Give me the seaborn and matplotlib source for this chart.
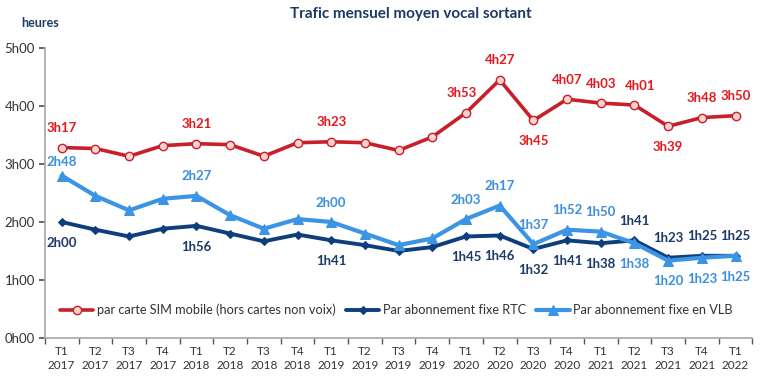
import matplotlib
matplotlib.use("Agg")
import matplotlib.pyplot as plt
import seaborn as sns
import numpy as np

quarters = ["T1\n2017", "T2\n2017", "T3\n2017", "T4\n2017",
            "T1\n2018", "T2\n2018", "T3\n2018", "T4\n2018",
            "T1\n2019", "T2\n2019", "T3\n2019", "T4\n2019",
            "T1\n2020", "T2\n2020", "T3\n2020", "T4\n2020",
            "T1\n2021", "T2\n2021", "T3\n2021", "T4\n2021",
            "T1\n2022"]

# minutes per month
sim_mobile = [197, 196, 188, 199, 201, 200, 188, 202, 203, 202, 194, 208,
              233, 267, 225, 247, 243, 241, 219, 228, 230]
fixe_rtc = [120, 112, 105, 113, 116, 108, 100, 107, 101, 96, 90, 94,
            105, 106, 92, 101, 98, 101, 83, 85, 85]
fixe_vlb = [168, 147, 132, 144, 147, 127, 113, 123, 120, 108, 96, 103,
            123, 137, 97, 112, 110, 98, 80, 83, 85]

labelled = [0, 4, 8, 12, 13, 14, 15, 16, 17, 18, 19, 20]
sim_below = [14, 18]
rtc_above = [17, 18, 19, 20]
vlb_below = [17, 18, 19, 20]

sns.set_theme(style="white")
plt.rcParams['font.family'] = ['Lato', 'DejaVu Sans']


def fmt(m):
    return f"{m // 60}h{m % 60:02d}"


fig = plt.figure(figsize=(7.6, 3.81), dpi=100)
ax = fig.add_axes([0.059, 0.113, 0.931, 0.761])

x = np.arange(len(quarters))
red, red_txt = "#C8202A", "#E3191F"
dark, dark_txt = "#0E3F7C", "#1B3A68"
light, light_txt = "#3C94E4", "#3A8FE0"

sns.lineplot(x=x, y=np.array(sim_mobile) / 60, ax=ax, color=red, lw=2.6,
             marker="o", markersize=6, markerfacecolor="#F9D3CF",
             markeredgecolor=red, markeredgewidth=1,
             label="par carte SIM mobile (hors cartes non voix)")
sns.lineplot(x=x, y=np.array(fixe_rtc) / 60, ax=ax, color=dark, lw=2.8,
             marker="D", markersize=4.5, markeredgecolor=dark,
             label="Par abonnement fixe RTC")
sns.lineplot(x=x, y=np.array(fixe_vlb) / 60, ax=ax, color=light, lw=3,
             marker="^", markersize=6.5, markeredgecolor=light,
             label="Par abonnement fixe en VLB")

lab_kw = dict(textcoords="offset points", ha="center", va="center",
              fontsize=9.5, fontweight="bold")
for i in labelled:
    dy = -15 if i in sim_below else 14
    dx = -3 if i == 12 else (4 if i == 17 else 0)
    ax.annotate(fmt(sim_mobile[i]), (x[i], sim_mobile[i] / 60),
                xytext=(dx, dy), color=red_txt, **lab_kw)
    dy = 14 if i in rtc_above else -15
    ax.annotate(fmt(fixe_rtc[i]), (x[i], fixe_rtc[i] / 60),
                xytext=(0, dy), color=dark_txt, **lab_kw)
    dy = -15 if i in vlb_below else 14
    if i == 0:
        dy = 10
    ax.annotate(fmt(fixe_vlb[i]), (x[i], fixe_vlb[i] / 60),
                xytext=(0, dy), color=light_txt, **lab_kw)

ax.set_xlim(-0.5, len(quarters) - 0.5)
ax.set_ylim(0, 5)
ax.set_yticks(range(6))
ax.set_yticklabels([f"{h}h00" for h in range(6)], fontsize=9.5, color="#333333")
ax.set_xticks(x)
ax.set_xticklabels(quarters, fontsize=8.5, color="#333333", linespacing=1.3)
ax.set_xticks(np.arange(-0.5, len(quarters)), minor=True)
ax.tick_params(axis="x", which="major", length=0, pad=6)
ax.tick_params(axis="x", which="minor", length=4, color="#555555", direction="out", bottom=True)
ax.tick_params(axis="y", length=4, color="#555555", direction="out", left=True, pad=3)

for s in ["top", "right"]:
    ax.spines[s].set_visible(False)
ax.spines["left"].set_color("#A6A6A6")
ax.spines["bottom"].set_color("#A6A6A6")
ax.spines["left"].set_linewidth(1.2)
ax.spines["bottom"].set_linewidth(1.2)
ax.set_xlabel("")
ax.set_ylabel("")

ax.legend(loc="center", bbox_to_anchor=(0.497, 0.097), ncol=3, frameon=False,
          fontsize=9.2, handlelength=2.6, handletextpad=0.3, columnspacing=0.8,
          labelcolor="#333333")

fig.text(0.54, 0.962, "Trafic mensuel moyen vocal sortant", ha="center", va="center",
         fontsize=11, fontweight="bold", color="#1F3864")
fig.text(0.053, 0.94, "heures", ha="center", va="center", fontsize=9,
         fontweight="bold", color="#1F3864")

fig.savefig("out.png", dpi=100)
